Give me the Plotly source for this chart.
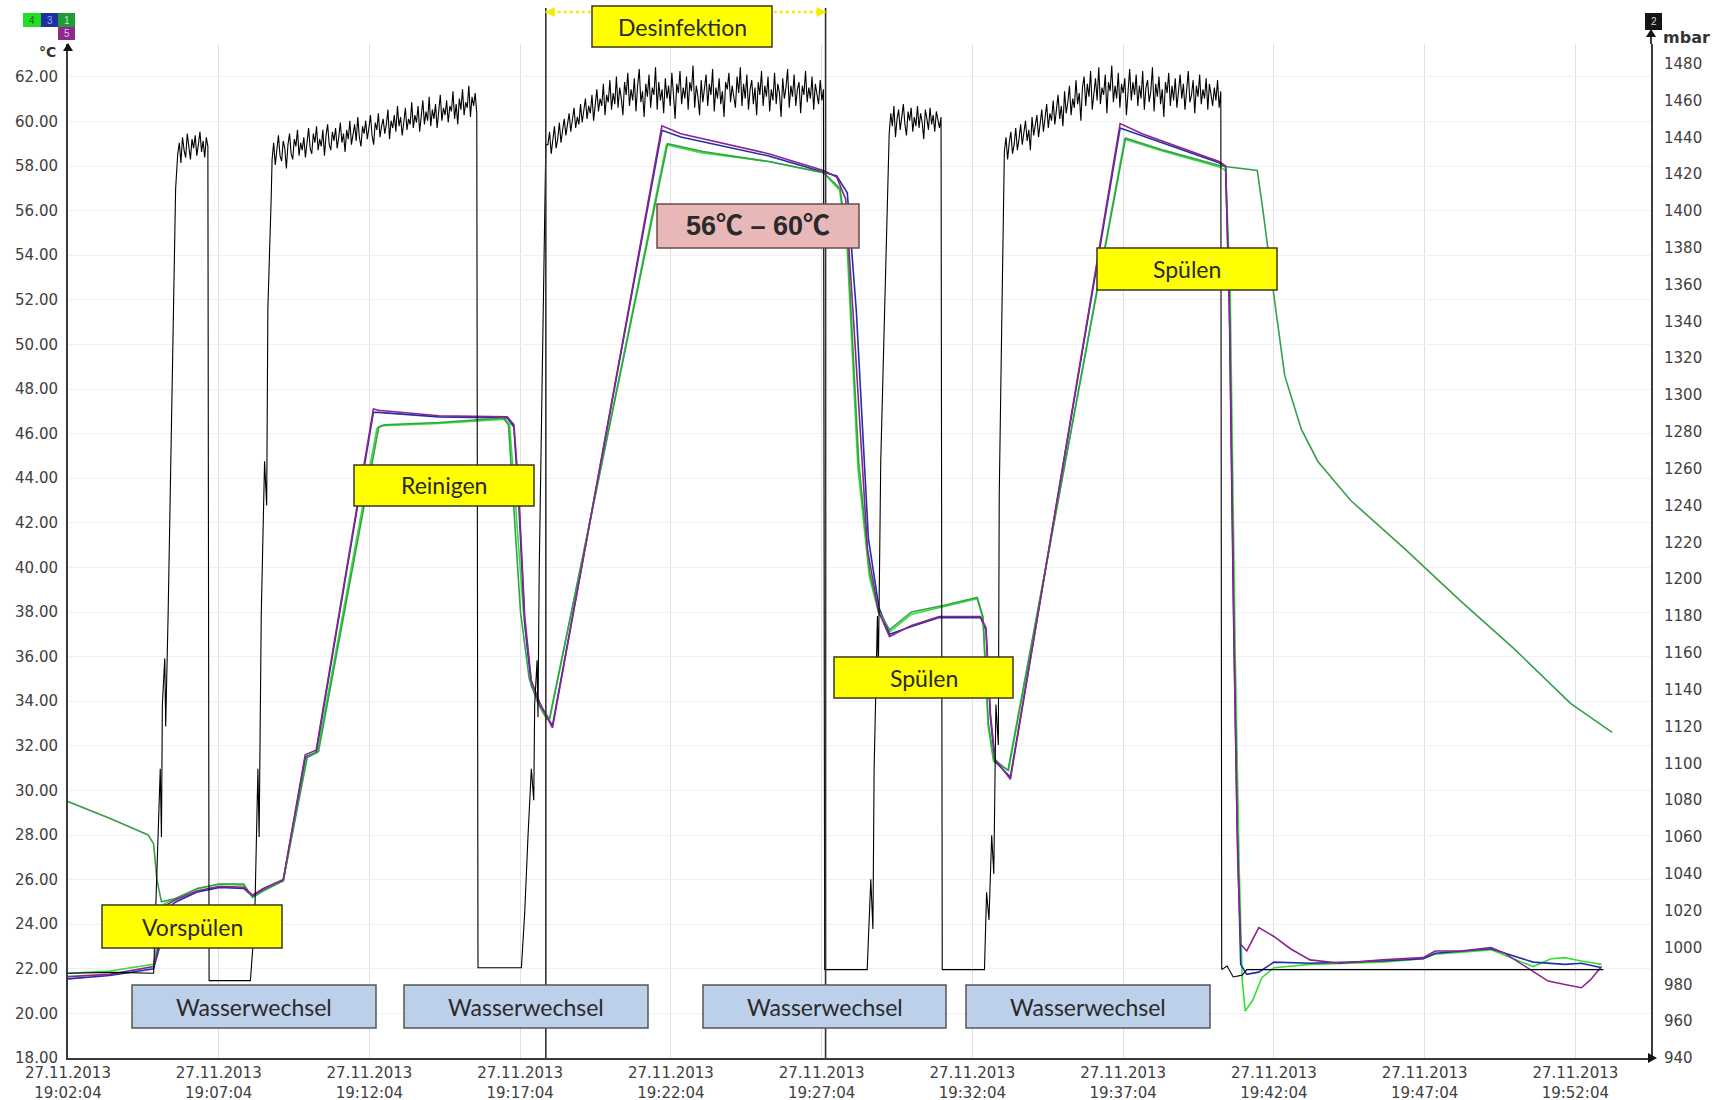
import pandas as pd
import plotly.graph_objects as go

# ---------------------------------------------------------------------------
# Messdaten: Zeit in Minuten ab 27.11.2013 19:02:04
# ---------------------------------------------------------------------------
START = pd.Timestamp("2013-11-27 19:02:04")
X_SPAN_MIN = 52.51

# Kanal 5 (°C)
k5_min = [0.00, 1.38, 2.84, 3.02, 3.20, 3.57, 4.30, 5.03, 5.83, 6.12, 6.48, 7.14, 7.87, 8.23,
          10.13, 10.30, 12.30, 14.57, 14.79, 14.94, 15.15, 15.37, 15.66, 16.07, 19.70, 20.33,
          23.24, 25.06, 25.50, 25.80, 26.08, 26.52, 26.88, 27.25, 27.98, 28.90, 30.27, 30.45,
          30.60, 30.75, 31.26, 34.90, 35.63, 38.18, 38.40, 38.54, 38.69, 38.80, 38.90, 39.10,
          39.50, 40.00, 40.55, 41.20, 42.20, 43.60, 44.95, 45.35, 46.20, 47.20, 47.65, 48.60,
          49.10, 49.65, 50.20, 50.50, 50.87]
k5_temp = [21.65, 21.75, 22.10, 23.10, 24.80, 25.10, 25.50, 25.70, 25.65, 25.30, 25.60, 26.00,
           31.60, 31.80, 47.10, 47.05, 46.80, 46.75, 46.40, 43.70, 37.80, 34.90, 33.90, 32.80,
           59.80, 59.45, 58.55, 57.80, 57.50, 56.50, 50.60, 40.80, 38.05, 36.90, 37.40, 37.80,
           37.80, 37.30, 33.40, 31.40, 30.50, 59.90, 59.45, 58.20, 58.00, 50.60, 35.80, 27.00,
           23.10, 22.80, 23.85, 23.45, 22.90, 22.40, 22.25, 22.40, 22.50, 22.80, 22.80, 22.95,
           22.70, 21.90, 21.45, 21.30, 21.15, 21.50, 22.10]

# Kanal 3 (°C)
k3_min = [0.00, 1.38, 2.84, 3.02, 3.20, 3.57, 4.30, 5.03, 5.83, 6.12, 6.48, 7.14, 7.87, 8.23,
          10.13, 10.30, 12.30, 14.57, 14.79, 14.94, 15.15, 15.37, 15.66, 16.07, 19.70, 20.33,
          23.24, 25.06, 25.50, 25.85, 26.15, 26.55, 26.90, 27.25, 27.98, 28.90, 30.27, 30.45,
          30.60, 30.75, 31.26, 34.90, 35.63, 38.18, 38.40, 38.52, 38.66, 38.78, 38.90, 39.10,
          39.50, 40.00, 41.20, 43.60, 44.95, 45.35, 47.20, 48.60, 49.65, 50.20, 50.87]
k3_temp = [21.55, 21.70, 22.00, 22.90, 24.60, 25.00, 25.45, 25.65, 25.60, 25.25, 25.55, 25.95,
           31.50, 31.70, 46.95, 46.95, 46.75, 46.70, 46.30, 43.20, 37.50, 34.70, 33.80, 32.90,
           59.60, 59.30, 58.45, 57.75, 57.55, 56.80, 51.50, 41.30, 38.20, 37.00, 37.35, 37.75,
           37.75, 37.20, 33.20, 31.30, 30.60, 59.70, 59.35, 58.15, 57.95, 52.00, 38.00, 28.50,
           22.20, 21.75, 21.85, 22.30, 22.25, 22.35, 22.45, 22.70, 22.90, 22.30, 22.20, 22.25,
           22.05]

# Kanal 4 (°C)
k4_min = [0.00, 1.38, 2.84, 3.00, 3.18, 3.57, 4.30, 5.03, 5.83, 6.12, 6.48, 7.14, 7.90, 8.27,
          10.25, 10.45, 12.30, 14.50, 14.65, 14.85, 15.10, 15.35, 15.62, 15.98, 19.85, 21.00,
          23.24, 25.06, 25.60, 25.85, 26.20, 26.58, 26.88, 27.25, 27.98, 29.07, 30.16, 30.35,
          30.52, 30.70, 31.20, 35.05, 36.36, 38.22, 38.40, 38.55, 38.72, 38.85, 38.95, 39.05,
          39.30, 39.60, 40.00, 41.20, 43.60, 44.95, 45.35, 47.20, 48.60, 49.20, 49.65, 50.20,
          50.87]
k4_temp = [21.80, 21.90, 22.20, 23.50, 24.90, 25.15, 25.60, 25.80, 25.75, 25.25, 25.50, 25.95,
           31.45, 31.70, 46.25, 46.35, 46.45, 46.65, 46.40, 42.80, 38.10, 35.00, 33.90, 33.20,
           58.95, 58.60, 58.20, 57.70, 56.90, 54.20, 44.50, 39.60, 38.00, 37.10, 37.90, 38.25,
           38.60, 37.70, 32.90, 31.30, 30.90, 59.20, 58.65, 57.95, 57.80, 52.50, 36.00, 26.50,
           21.50, 20.10, 20.60, 21.60, 22.05, 22.20, 22.30, 22.45, 22.65, 22.85, 22.10, 22.45,
           22.50, 22.35, 22.20]

# Kanal 1 (°C)
k1_min = [0.00, 1.38, 2.66, 2.84, 2.95, 3.10, 3.57, 4.30, 5.03, 5.83, 5.97, 6.12, 6.48, 7.14,
          7.94, 8.31, 10.31, 10.49, 12.31, 14.43, 14.61, 14.79, 15.01, 15.30, 15.59, 15.88,
          15.96, 19.89, 21.06, 23.24, 25.06, 25.61, 25.86, 26.23, 26.59, 26.88, 27.25, 27.98,
          29.07, 30.16, 30.35, 30.53, 30.71, 31.18, 35.08, 36.36, 38.25, 39.45, 39.64, 40.00,
          40.36, 40.91, 41.46, 42.55, 44.37, 46.19, 48.01, 49.84, 51.22]
k1_temp = [29.50, 28.75, 28.00, 27.60, 26.00, 25.00, 25.15, 25.60, 25.80, 25.80, 25.50, 25.20,
           25.50, 25.95, 31.50, 31.75, 46.30, 46.40, 46.50, 46.70, 46.40, 42.50, 38.00, 35.00,
           33.90, 33.20, 33.15, 59.00, 58.65, 58.20, 57.70, 57.00, 54.50, 44.70, 39.80, 38.10,
           37.20, 38.00, 38.30, 38.65, 37.80, 33.00, 31.40, 30.90, 59.25, 58.70, 58.00, 57.80,
           56.00, 52.20, 48.60, 46.20, 44.75, 43.00, 40.80, 38.50, 36.30, 33.90, 32.60]

# Kanal 2 (mbar): Ruhephasen und Flanken
druck_min = [0.00, 1.50, 2.84, 2.95, 3.06, 3.10, 3.13, 3.21, 3.24, 3.32, 3.42, 3.50, 3.57,
             4.68, 6.05, 6.19, 6.30, 6.34, 6.41, 6.52, 6.59, 6.63, 6.74,
             13.60, 15.04, 15.15, 15.26, 15.37, 15.45, 15.48, 15.56, 15.59, 15.63, 15.70, 15.77, 15.85,
             25.10, 26.51, 26.63, 26.70, 26.74, 26.85, 26.88, 26.96, 27.07, 27.18,
             29.00, 30.40, 30.47, 30.55, 30.64, 30.71, 30.78, 30.86, 30.89, 30.97, 31.03,
             38.27, 38.45, 38.65, 38.95, 39.10, 50.93]
druck_mbar = [986, 986.5, 986, 1037, 1097, 1060, 1132, 1157, 1120, 1180, 1275, 1359, 1412,
              982, 982, 1013, 1097, 1060, 1180, 1264, 1240, 1347, 1407,
              989, 989, 1019, 1061, 1097, 1080, 1132, 1156, 1125, 1204, 1275, 1364, 1436,
              988, 988, 1037, 1010, 1097, 1180, 1150, 1264, 1336, 1407,
              988, 988, 1030, 1015, 1061, 1040, 1132, 1110, 1245, 1335, 1418,
              988, 990, 984, 985, 988, 988]

# Kanal 2 (mbar): dicht abgetastete Druckplateaus (Beginn, Ende in Minuten)
plateau_zeitraum = [(3.64, 4.64), (6.77, 13.56), (15.92, 25.06), (27.24, 28.96), (31.06, 38.24)]
plateau_vorspuelen = [1431, 1437, 1426, 1440, 1433, 1429, 1442, 1435, 1428, 1439,
                      1434, 1441, 1430, 1436, 1443, 1432, 1438, 1429, 1440, 1435]
plateau_reinigen = [1428, 1437, 1425, 1433, 1441, 1430, 1427, 1438, 1434, 1423,
                    1436, 1442, 1431, 1428, 1439, 1435, 1444, 1430, 1437, 1433,
                    1440, 1429, 1438, 1445, 1434, 1431, 1442, 1437, 1446, 1433,
                    1439, 1435, 1444, 1430, 1441, 1447, 1436, 1433, 1443, 1438,
                    1445, 1434, 1440, 1448, 1437, 1442, 1432, 1444, 1439, 1449,
                    1436, 1443, 1447, 1438, 1451, 1440, 1435, 1446, 1442, 1449,
                    1439, 1445, 1452, 1441, 1436, 1448, 1444, 1453, 1440, 1446,
                    1450, 1442, 1447, 1455, 1439, 1449, 1445, 1452, 1443, 1457,
                    1446, 1451, 1441, 1448, 1456, 1444, 1450, 1447, 1459, 1445,
                    1452, 1448, 1457, 1443, 1451, 1460, 1447, 1454, 1449, 1462,
                    1446, 1455, 1450, 1458, 1445, 1453, 1463, 1449, 1456, 1452,
                    1460, 1448, 1457, 1454, 1465, 1450, 1458, 1447, 1461, 1455,
                    1466, 1452, 1459, 1456, 1468, 1451, 1462, 1457, 1464, 1453]
plateau_desinfektion = [1436, 1443, 1431, 1440, 1446, 1434, 1439, 1448, 1437, 1444,
                        1450, 1441, 1447, 1453, 1443, 1449, 1456, 1445, 1451, 1447,
                        1458, 1448, 1455, 1461, 1450, 1457, 1453, 1463, 1449, 1459,
                        1466, 1454, 1461, 1457, 1469, 1452, 1463, 1459, 1471, 1455,
                        1464, 1458, 1473, 1456, 1467, 1461, 1452, 1470, 1463, 1475,
                        1457, 1466, 1460, 1472, 1454, 1468, 1477, 1459, 1465, 1451,
                        1469, 1462, 1474, 1456, 1467, 1463, 1478, 1455, 1470, 1460,
                        1466, 1453, 1472, 1461, 1468, 1457, 1475, 1463, 1450, 1469,
                        1464, 1476, 1458, 1467, 1461, 1473, 1455, 1470, 1465, 1479,
                        1456, 1468, 1462, 1452, 1471, 1459, 1466, 1474, 1457, 1469,
                        1463, 1477, 1454, 1467, 1461, 1472, 1458, 1465, 1451, 1470,
                        1466, 1475, 1459, 1468, 1462, 1456, 1473, 1464, 1478, 1457,
                        1469, 1461, 1474, 1455, 1466, 1471, 1458, 1467, 1452, 1470,
                        1463, 1476, 1457, 1468, 1462, 1473, 1454, 1466, 1460, 1475,
                        1458, 1469, 1464, 1451, 1472, 1461, 1467, 1477, 1456, 1468,
                        1462, 1474, 1457, 1466, 1470, 1453, 1468, 1463, 1476, 1459,
                        1467, 1461, 1473, 1455, 1469, 1464, 1458, 1471, 1460, 1466]
plateau_spuelen1 = [1442, 1453, 1446, 1457, 1440, 1450, 1455, 1444, 1452, 1458,
                    1447, 1441, 1454, 1449, 1456, 1443, 1451, 1446, 1457, 1445,
                    1453, 1448, 1439, 1455, 1450, 1444, 1456, 1447, 1452, 1443,
                    1454, 1449, 1445, 1451]
plateau_spuelen2 = [1432, 1440, 1428, 1437, 1443, 1431, 1436, 1445, 1433, 1439,
                    1447, 1436, 1442, 1449, 1438, 1444, 1433, 1451, 1441, 1446,
                    1452, 1440, 1448, 1455, 1443, 1450, 1458, 1445, 1453, 1449,
                    1460, 1447, 1455, 1463, 1450, 1457, 1446, 1465, 1453, 1459,
                    1468, 1452, 1461, 1456, 1471, 1458, 1464, 1449, 1467, 1473,
                    1457, 1469, 1462, 1476, 1455, 1466, 1472, 1460, 1478, 1458,
                    1467, 1463, 1474, 1453, 1470, 1465, 1479, 1459, 1468, 1461,
                    1475, 1456, 1469, 1464, 1472, 1452, 1466, 1477, 1460, 1470,
                    1463, 1474, 1457, 1468, 1461, 1476, 1455, 1467, 1471, 1459,
                    1465, 1478, 1454, 1469, 1462, 1473, 1458, 1466, 1451, 1470,
                    1464, 1475, 1457, 1468, 1460, 1472, 1456, 1467, 1474, 1461,
                    1469, 1455, 1466, 1476, 1459, 1463, 1471, 1453, 1468, 1462,
                    1474, 1458, 1466, 1461, 1472, 1455, 1469, 1464, 1457, 1467,
                    1460, 1471, 1456, 1465]
plateau_werte = [plateau_vorspuelen, plateau_reinigen, plateau_desinfektion,
                 plateau_spuelen1, plateau_spuelen2]

# Achsenbeschriftung
tick_datum = "27.11.2013"
tick_uhrzeit = ["19:02:04", "19:07:04", "19:12:04", "19:17:04", "19:22:04", "19:27:04",
                "19:32:04", "19:37:04", "19:42:04", "19:47:04", "19:52:04"]
temp_ticks = list(range(18, 63, 2))
druck_ticks = list(range(940, 1481, 20))

# Phasenmarken (Desinfektion) in Minuten
desinfektion_min = [15.85, 25.13]

# ---------------------------------------------------------------------------
# Geometrie der Plotfläche (Pixel)
# ---------------------------------------------------------------------------
W, H = 1722, 1100
PL, PR, PT, PB = 68, 1651, 44, 1058


def fx(px):
    return (px - PL) / (PR - PL)


def fy(py):
    return (PB - py) / (PB - PT)


def zeit(minuten):
    return [START + pd.Timedelta(minutes=m) for m in minuten]


# Drucksignal zusammensetzen
p_t = list(druck_min)
p_v = list(druck_mbar)
for (t0, t1), werte in zip(plateau_zeitraum, plateau_werte):
    n = len(werte)
    for i, v in enumerate(werte):
        p_t.append(t0 + (t1 - t0) * i / (n - 1))
        p_v.append(v)
reihenfolge = sorted(range(len(p_t)), key=lambda i: p_t[i])
p_t = [p_t[i] for i in reihenfolge]
p_v = [p_v[i] for i in reihenfolge]

fig = go.Figure()
kanaele = [
    (k4_min, k4_temp, "#33e033", "4"),
    (k3_min, k3_temp, "#2030a8", "3"),
    (k1_min, k1_temp, "#35a04a", "1"),
    (k5_min, k5_temp, "#8c248c", "5"),
]
for t, v, farbe, name in kanaele:
    fig.add_trace(go.Scatter(x=zeit(t), y=v, mode="lines", name=name,
                             line=dict(color=farbe, width=1.6)))
fig.add_trace(go.Scatter(x=zeit(p_t), y=p_v, mode="lines", name="2", yaxis="y2",
                         line=dict(color="#000000", width=1.1)))

tick_font = dict(family="DejaVu Sans, Liberation Sans, sans-serif", size=15, color="#404040")
achse = "#3a3a3a"

fig.update_layout(
    width=W, height=H,
    margin=dict(l=PL, r=W - PR, t=PT, b=H - PB),
    paper_bgcolor="white", plot_bgcolor="white",
    showlegend=False,
    xaxis=dict(
        type="date",
        range=[START, START + pd.Timedelta(minutes=X_SPAN_MIN)],
        tickvals=zeit([5 * i for i in range(len(tick_uhrzeit))]),
        ticktext=[f"{tick_datum}<br>{u}" for u in tick_uhrzeit],
        showgrid=True, gridcolor="#e0e0e0", gridwidth=1,
        showline=True, linecolor=achse, linewidth=2,
        ticks="", zeroline=False, tickfont=tick_font, automargin=False,
        ticklabelstandoff=0,
    ),
    yaxis=dict(
        range=[18, 18 + (PB - PT) / 22.3],
        tickvals=temp_ticks, ticktext=[f"{v:.2f}" for v in temp_ticks],
        showgrid=True, gridcolor="#f1f1f1", gridwidth=1,
        showline=True, linecolor=achse, linewidth=2,
        ticks="", zeroline=False, tickfont=tick_font, ticklabelstandoff=5,
        automargin=False,
    ),
    yaxis2=dict(
        overlaying="y", side="right",
        range=[940, 940 + (PB - PT) / 1.8415],
        tickvals=druck_ticks, ticktext=[str(v) for v in druck_ticks],
        showgrid=False, showline=True, linecolor=achse, linewidth=2,
        ticks="", zeroline=False, tickfont=tick_font, ticklabelstandoff=8,
        automargin=False,
    ),
)

shapes = []
annotations = []

# Phasenmarken Desinfektion mit gelbem Doppelpfeil
x_des = [m / X_SPAN_MIN for m in desinfektion_min]
for xm in x_des:
    shapes.append(dict(type="line", xref="paper", yref="paper", x0=xm, x1=xm,
                       y0=0, y1=fy(8), line=dict(color="#333333", width=1.6)))
shapes.append(dict(type="line", xref="paper", yref="paper", x0=x_des[0], x1=x_des[1],
                   y0=fy(12), y1=fy(12), line=dict(color="#eeee00", width=2.5, dash="dot")))
for xm, pfad in [(x_des[0], "M -1 0 L 9 5 L 9 -5 Z"), (x_des[1], "M 1 0 L -9 5 L -9 -5 Z")]:
    shapes.append(dict(type="path", xref="paper", yref="paper", xsizemode="pixel",
                       ysizemode="pixel", xanchor=xm, yanchor=fy(12), path=pfad,
                       fillcolor="#eeee00", line=dict(width=0)))

# Achsenverlängerung und Pfeilspitzen
shapes.append(dict(type="line", xref="paper", yref="paper", x0=1, x1=1, y0=1, y1=fy(34),
                   line=dict(color=achse, width=2)))
for xa, ya, pfad in [(0, fy(43), "M 0 0 L -5 -8 L 5 -8 Z"),
                     (1, fy(29), "M 0 0 L -5 -8 L 5 -8 Z"),
                     (fx(1657), 0, "M 0 0 L -9 5 L -9 -5 Z")]:
    shapes.append(dict(type="path", xref="paper", yref="paper", xsizemode="pixel",
                       ysizemode="pixel", xanchor=xa, yanchor=ya, path=pfad,
                       fillcolor="#111111", line=dict(width=0)))

# Beschriftungsfelder der Programmphasen
box_font = "Lato, Open Sans, sans-serif"
felder = [
    ("Vorspülen", 102, 282, 905, 948, "#ffff00", "#3a3a1a", False),
    ("Reinigen", 354, 534, 465, 506, "#ffff00", "#3a3a1a", False),
    ("Desinfektion", 592, 772, 6, 47, "#ffff00", "#3a3a1a", False),
    ("Spülen", 834, 1013, 657, 698, "#ffff00", "#3a3a1a", False),
    ("Spülen", 1097, 1277, 248, 290, "#ffff00", "#3a3a1a", False),
    ("56℃ – 60℃", 657, 859, 204, 248, "#e8b8b8", "#6a4a4a", True),
    ("Wasserwechsel", 132, 376, 985, 1028, "#bcd0ea", "#555555", False),
    ("Wasserwechsel", 404, 648, 985, 1028, "#bcd0ea", "#555555", False),
    ("Wasserwechsel", 703, 946, 985, 1028, "#bcd0ea", "#555555", False),
    ("Wasserwechsel", 966, 1210, 985, 1028, "#bcd0ea", "#555555", False),
]
for text, x0, x1, y0, y1, fill, rand, fett in felder:
    shapes.append(dict(type="rect", xref="paper", yref="paper",
                       x0=fx(x0), x1=fx(x1), y0=fy(y1), y1=fy(y0),
                       fillcolor=fill, line=dict(color=rand, width=1.5)))
    annotations.append(dict(
        text=f"<b>{text}</b>" if fett else text,
        xref="paper", yref="paper", x=fx((x0 + x1) / 2), y=fy((y0 + y1) / 2),
        showarrow=False, xanchor="center", yanchor="middle",
        font=dict(family=("Liberation Sans, Noto Sans CJK SC" if fett else box_font),
                  size=(27 if fett else 23), color="#2a2a2a")))

# Kanalkennungen
kennungen = [
    ("4", 23, 41, 13, 27, "#22dd22", "#1a6a1a"),
    ("3", 41, 58, 13, 27, "#2030a0", "#9aa8ff"),
    ("1", 58, 75, 13, 27, "#1f9a3a", "#b8f0b8"),
    ("5", 58, 75, 27, 40, "#8e2a8e", "#f0b8f0"),
    ("2", 1645, 1662, 13, 30, "#151515", "#dddddd"),
]
for text, x0, x1, y0, y1, fill, schrift in kennungen:
    shapes.append(dict(type="rect", xref="paper", yref="paper",
                       x0=fx(x0), x1=fx(x1), y0=fy(y1), y1=fy(y0),
                       fillcolor=fill, line=dict(width=0)))
    annotations.append(dict(text=text, xref="paper", yref="paper",
                            x=fx((x0 + x1) / 2), y=fy((y0 + y1) / 2),
                            showarrow=False, xanchor="center", yanchor="middle",
                            font=dict(family="Liberation Sans, Arial", size=10, color=schrift)))

# Einheiten
annotations.append(dict(text="<b>°C</b>", xref="paper", yref="paper", x=fx(58), y=fy(52),
                        showarrow=False, xanchor="right", yanchor="middle",
                        font=dict(family="DejaVu Sans, Liberation Sans", size=14, color="#333333")))
annotations.append(dict(text="<b>mbar</b>", xref="paper", yref="paper", x=fx(1661), y=fy(37),
                        showarrow=False, xanchor="left", yanchor="middle",
                        font=dict(family="DejaVu Sans, Liberation Sans", size=16, color="#333333")))

fig.update_layout(shapes=shapes, annotations=annotations)
fig.write_html("out.html", config={"displayModeBar": False})
